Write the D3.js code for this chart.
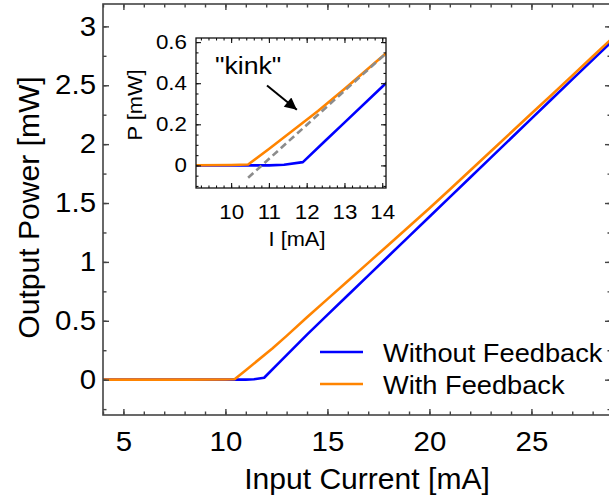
<!DOCTYPE html>
<html>
<head>
<meta charset="utf-8">
<script src="https://cdn.jsdelivr.net/npm/d3@7"></script>
<style>
  html, body { margin: 0; padding: 0; background: #fff; }
  svg { display: block; }
  text { font-family: "Liberation Sans", Arial, Helvetica, sans-serif; fill: #000; }
</style>
</head>
<body>
<svg id="chart" width="609" height="501"></svg>
<script>
// Laser output power versus drive current, with and without optical feedback
const currentNoFb = [4, 6, 8, 10, 11, 11.4, 11.9, 12.5, 13, 14, 15, 16, 17, 18, 19, 20, 21, 22, 23, 24, 25, 26, 27, 28, 29];
const powerNoFb   = [0, 0, 0, 0, 0, 0.003, 0.016, 0.121, 0.208, 0.383, 0.55, 0.717, 0.883, 1.05, 1.217, 1.383, 1.55, 1.717, 1.883, 2.05, 2.217, 2.383, 2.55, 2.716, 2.882];

const currentFb = [4, 6, 8, 10, 10.45, 11, 12.3, 13, 14, 15, 16, 17, 18, 19, 20, 21, 22, 23, 24, 25, 26, 27, 28, 29];
const powerFb   = [0, 0, 0, 0.002, 0.004, 0.08, 0.265, 0.372, 0.53, 0.684, 0.838, 0.992, 1.146, 1.300, 1.455, 1.615, 1.776, 1.937, 2.099, 2.260, 2.420, 2.582, 2.744, 2.906];

// linear fit of the above-threshold slope (dashed, inset)
const fitCurrent = [10.45, 14.1];
const fitPower   = [-0.06, 0.545];

const seriesNames = ["Without Feedback", "With Feedback"];
const seriesColors = ["#0000ff", "#ff8400"];

// tick values and labels
const mainXTicks = [5, 10, 15, 20, 25];
const mainXLabels = ["5", "10", "15", "20", "25"];
const mainYTicks = [0, 0.5, 1, 1.5, 2, 2.5, 3];
const mainYLabels = ["0", "0.5", "1", "1.5", "2", "2.5", "3"];
const insetXTicks = [10, 11, 12, 13, 14];
const insetXLabels = ["10", "11", "12", "13", "14"];
const insetYTicks = [0, 0.2, 0.4, 0.6];
const insetYLabels = ["0", "0.2", "0.4", "0.6"];

// annotation anchor points in inset data coordinates
const kinkLabel = { x: 10.45, y: 0.446, text: "\"kink\"" };
const kinkArrow = { x1: 10.95, y1: 0.389, x2: 11.74, y2: 0.271 };

const SX = 1.09;       // horizontal glyph stretch for labels
const SX_TITLE = 1.02; // horizontal glyph stretch for axis titles
const FONT = '"Liberation Sans", Arial, Helvetica, sans-serif';

const svg = d3.select("#chart");

const seriesA = currentNoFb.map((c, i) => [c, powerNoFb[i]]);
const seriesB = currentFb.map((c, i) => [c, powerFb[i]]);

function stretch(sel, sx) {
  sel.each(function () {
    const t = d3.select(this);
    const x = +t.attr("x") || 0;
    t.attr("x", x / sx).attr("transform", `scale(${sx},1)`);
  });
}

function drawFrame(g, x, y, opts) {
  const w = x.range()[1] - x.range()[0];
  const h = y.range()[0] - y.range()[1];
  const left = x.range()[0], top = y.range()[1], bottom = y.range()[0], right = x.range()[1];

  const axes = [
    { gen: d3.axisBottom(x), t: `translate(0,${bottom})`, labels: true, scale: "x" },
    { gen: d3.axisTop(x), t: `translate(0,${top})`, labels: false, scale: "x" },
    { gen: d3.axisLeft(y), t: `translate(${left},0)`, labels: true, scale: "y" },
    { gen: d3.axisRight(y), t: `translate(${right},0)`, labels: false, scale: "y" }
  ];

  axes.forEach(a => {
    const isX = a.scale === "x";
    const minor = isX ? opts.xMinor : opts.yMinor;
    const major = isX ? opts.xTicks : opts.yTicks;
    const labels = isX ? opts.xLabels : opts.yLabels;

    // minor ticks, pointing into the panel
    const gm = g.append("g").attr("transform", a.t)
      .call(a.gen.tickValues(minor).tickSize(-opts.minorLen).tickFormat(""));
    gm.select(".domain").remove();
    gm.selectAll("line").attr("stroke", opts.color).attr("stroke-width", opts.tickWidth);

    // major ticks with labels on the bottom and left sides
    const gen = a.gen.tickValues(major).tickSize(-opts.majorLen)
      .tickPadding(isX ? opts.xPad : opts.yPad)
      .tickFormat(a.labels ? ((d, i) => labels[i]) : "");
    const gM = g.append("g").attr("transform", a.t).call(gen);
    gM.select(".domain").remove();
    gM.selectAll("line").attr("stroke", opts.color).attr("stroke-width", opts.tickWidth);
    gM.selectAll("text")
      .attr("font-family", FONT)
      .attr("font-size", opts.fontSize)
      .attr("fill", "#000")
      .call(stretch, SX);
  });

  g.append("rect")
    .attr("x", left).attr("y", top).attr("width", w).attr("height", h)
    .attr("fill", "none").attr("stroke", opts.color).attr("stroke-width", opts.frameWidth);
}

// ---------- main panel ----------
const main = { left: 103, right: 611, top: 4, bottom: 415 };
const x = d3.scaleLinear().domain([4, 28.9]).range([main.left, main.right]);
const y = d3.scaleLinear().domain([-0.3, 3.19]).range([main.bottom, main.top]);

const defs = svg.append("defs");
defs.append("clipPath").attr("id", "clipMain")
  .append("rect").attr("x", main.left).attr("y", main.top)
  .attr("width", main.right - main.left).attr("height", main.bottom - main.top);

const line = d3.line().x(d => x(d[0])).y(d => y(d[1]));

const gMain = svg.append("g");
const gLines = gMain.append("g").attr("clip-path", "url(#clipMain)");
[seriesA, seriesB].forEach((s, i) => {
  gLines.append("path").datum(s)
    .attr("d", line)
    .attr("fill", "none")
    .attr("stroke", seriesColors[i])
    .attr("stroke-width", 2.6)
    .attr("stroke-linejoin", "round");
});

drawFrame(gMain, x, y, {
  xTicks: mainXTicks, xLabels: mainXLabels,
  yTicks: mainYTicks, yLabels: mainYLabels,
  xMinor: d3.range(4, 29, 1), yMinor: d3.range(-0.25, 3.2, 0.25),
  majorLen: 6, minorLen: 3.5, xPad: 17, yPad: 7,
  fontSize: 27, color: "#444", tickWidth: 1.4, frameWidth: 1.6
});

// axis titles
svg.append("text")
  .attr("transform", `translate(367,489) scale(${SX_TITLE},1)`)
  .attr("text-anchor", "middle")
  .attr("font-size", 29.5)
  .text("Input Current [mA]");

svg.append("text")
  .attr("transform", `translate(39,${(main.top + main.bottom) / 2 - 2}) rotate(-90) scale(${SX_TITLE},1)`)
  .attr("text-anchor", "middle")
  .attr("font-size", 29.5)
  .text("Output Power [mW]");

// legend
const legend = svg.append("g").attr("transform", "translate(320,352)");
seriesNames.forEach((name, i) => {
  const row = legend.append("g").attr("transform", `translate(0,${i * 32})`);
  row.append("line").attr("x1", 0).attr("x2", 43).attr("y1", 0).attr("y2", 0)
    .attr("stroke", seriesColors[i]).attr("stroke-width", 2.6);
  row.append("text")
    .attr("transform", `translate(63,9.5) scale(${SX},1)`)
    .attr("font-size", 25)
    .text(name);
});

// ---------- inset panel ----------
const ins = { left: 196, right: 386, top: 38, bottom: 188 };
const xi = d3.scaleLinear().domain([9.07, 14.1]).range([ins.left, ins.right]);
const yi = d3.scaleLinear().domain([-0.11, 0.62]).range([ins.bottom, ins.top]);

defs.append("clipPath").attr("id", "clipInset")
  .append("rect").attr("x", ins.left).attr("y", ins.top)
  .attr("width", ins.right - ins.left).attr("height", ins.bottom - ins.top);

const gInset = svg.append("g");
gInset.append("rect")
  .attr("x", ins.left).attr("y", ins.top)
  .attr("width", ins.right - ins.left).attr("height", ins.bottom - ins.top)
  .attr("fill", "#fff");

const lineI = d3.line().x(d => xi(d[0])).y(d => yi(d[1]));
const gInLines = gInset.append("g").attr("clip-path", "url(#clipInset)");
[seriesA, seriesB].forEach((s, i) => {
  gInLines.append("path").datum(s)
    .attr("d", lineI)
    .attr("fill", "none")
    .attr("stroke", seriesColors[i])
    .attr("stroke-width", 2.6)
    .attr("stroke-linejoin", "round");
});
gInLines.append("path")
  .datum(fitCurrent.map((c, i) => [c, fitPower[i]]))
  .attr("d", lineI)
  .attr("fill", "none")
  .attr("stroke", "#8c8c8c")
  .attr("stroke-width", 2.6)
  .attr("stroke-dasharray", "7,4");

drawFrame(gInset, xi, yi, {
  xTicks: insetXTicks, xLabels: insetXLabels,
  yTicks: insetYTicks, yLabels: insetYLabels,
  xMinor: d3.range(9.2, 14.1, 0.2), yMinor: d3.range(-0.1, 0.62, 0.05),
  majorLen: 5, minorLen: 2.5, xPad: 16, yPad: 9,
  fontSize: 20.5, color: "#111", tickWidth: 1.1, frameWidth: 1.3
});

svg.append("text")
  .attr("transform", `translate(297,246) scale(${SX},1)`)
  .attr("text-anchor", "middle")
  .attr("font-size", 20)
  .text("I [mA]");

svg.append("text")
  .attr("transform", `translate(142,${(ins.top + ins.bottom) / 2 - 8}) rotate(-90) scale(${SX},1)`)
  .attr("text-anchor", "middle")
  .attr("font-size", 20)
  .text("P [mW]");

// "kink" annotation with arrow
defs.append("marker")
  .attr("id", "arrowHead")
  .attr("viewBox", "0 0 10 10")
  .attr("refX", 10).attr("refY", 5)
  .attr("markerWidth", 6.5).attr("markerHeight", 6)
  .attr("markerUnits", "strokeWidth")
  .attr("orient", "auto")
  .append("path").attr("d", "M0,0 L10,5 L0,10 Z").attr("fill", "#000");

svg.append("line")
  .attr("x1", xi(kinkArrow.x1)).attr("y1", yi(kinkArrow.y1))
  .attr("x2", xi(kinkArrow.x2)).attr("y2", yi(kinkArrow.y2))
  .attr("stroke", "#000").attr("stroke-width", 2)
  .attr("marker-end", "url(#arrowHead)");

svg.append("text")
  .attr("transform", `translate(${xi(kinkLabel.x)},${yi(kinkLabel.y)}) scale(${SX},1)`)
  .attr("text-anchor", "middle")
  .attr("font-size", 24.5)
  .text(kinkLabel.text);
</script>
</body>
</html>
